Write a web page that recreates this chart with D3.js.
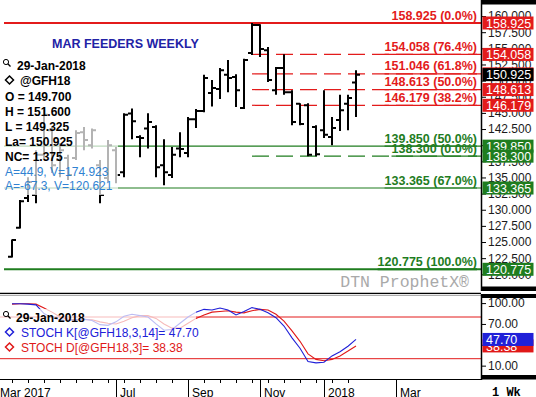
<!DOCTYPE html>
<html>
<head>
<meta charset="utf-8">
<script src="https://cdn.jsdelivr.net/npm/d3@7"></script>
<style>
  body { margin: 0; background: #fff; }
  svg { display: block; font-family: "Liberation Sans", Arial, sans-serif; }
</style>
</head>
<body>
<div id="chart"></div>
<script>
'use strict';

// weekly bars of the Mar feeder cattle contract (@GFH18)
const weeks = [
  "2017-04-03", "2017-04-10", "2017-04-17", "2017-04-24", "2017-05-01", "2017-05-08",
  "2017-05-15", "2017-05-22", "2017-05-29", "2017-06-05", "2017-06-12", "2017-06-19",
  "2017-06-26", "2017-07-03", "2017-07-10", "2017-07-17", "2017-07-24", "2017-07-31",
  "2017-08-07", "2017-08-14", "2017-08-21", "2017-08-28", "2017-09-04", "2017-09-11",
  "2017-09-18", "2017-09-25", "2017-10-02", "2017-10-09", "2017-10-16", "2017-10-23",
  "2017-10-30", "2017-11-06", "2017-11-13", "2017-11-20", "2017-11-27", "2017-12-04",
  "2017-12-11", "2017-12-18", "2017-12-25", "2018-01-01", "2018-01-08", "2018-01-15",
  "2018-01-22", "2018-01-29"
];
const opens = [122.7, 127.2, 131.8, 132.3, 138.5, 142.3, 137.7, 138.0, 138.0, 142.0, 140.0, 136.9,
  134.9, 139.2, 135.8, 144.9, 141.25, 142.6, 142.8, 136.9, 135.4, 139.5, 138.8, 144.0,
  145.3, 148.1, 148.7, 150.9, 150.55, 145.75, 154.27, 158.6, 154.7, 148.5, 151.95, 148.2,
  146.4, 146.2, 142.8, 142.3, 141.25, 143.9, 146.4, 149.7];
const highs = [125.4, 131.5, 135.05, 139.2, 145.75, 142.8, 140.3, 138.5, 142.3, 142.8, 142.6, 137.7,
  140.8, 139.7, 144.95, 145.7, 141.55, 144.95, 143.1, 140.9, 139.7, 142.0, 144.35, 145.6,
  150.9, 150.1, 151.95, 153.2, 151.0, 153.4, 158.925, 158.75, 155.2, 152.1, 154.1, 148.5,
  146.5, 146.5, 143.1, 148.5, 144.35, 147.8, 147.8, 151.6];
const lows = [122.6, 127.1, 131.2, 131.0, 138.0, 135.7, 135.05, 134.6, 137.7, 139.2, 139.5, 131.0,
  134.3, 134.1, 135.05, 140.9, 138.15, 139.5, 135.05, 133.8, 134.9, 138.15, 138.15, 142.65,
  145.1, 146.0, 147.15, 148.2, 145.9, 145.6, 153.96, 153.65, 149.8, 147.8, 147.8, 143.1,
  143.1, 138.3, 138.3, 141.1, 140.0, 142.2, 142.3, 144.35];
const closes = [125.3, 131.3, 134.3, 138.5, 144.7, 136.9, 139.2, 135.4, 141.9, 140.8, 142.3, 132.3,
  140.0, 135.4, 144.7, 143.7, 141.1, 143.6, 136.6, 135.8, 138.5, 139.4, 144.0, 145.3,
  150.4, 148.85, 151.6, 150.4, 148.5, 153.2, 158.6, 154.9, 150.1, 151.95, 148.2, 143.6,
  143.3, 138.5, 138.6, 141.6, 142.65, 145.4, 147.3, 150.925];

// stochastics
const stochK = [99, 99, 98.5, 97.5, 85, 79, 76, 75, 76, 77, 75, 69,
  68, 73, 81, 84, 82, 80, 70, 61, 62, 71, 80, 87,
  91, 90, 93, 90, 83, 88, 93.5, 91, 86, 79, 67, 50,
  35, 16, 14, 15, 24, 30, 38, 47.70];
const stochD = [98.5, 99, 99, 98.5, 93, 87, 80, 77, 76, 76, 76, 73,
  71, 70, 74, 79, 82, 82, 78, 70, 64, 64, 71, 78,
  83, 87, 88, 89, 87, 86, 89, 91, 90, 84, 74, 60,
  45, 27, 19, 17, 19, 24, 31, 38.38];

// retracement levels
const resistanceLevels = [158.925, 154.058, 151.046, 148.613, 146.179];
const resistancePct = ["0.0", "76.4", "61.8", "50.0", "38.2"];
const supportLevels = [139.850, 138.300, 133.365, 120.775];
const supportPct = ["50.0", "0.0", "67.0", "100.0"];
const moveLevels = [154.058, 151.046, 148.613, 146.179, 138.300];  // drawn from the swing high

// axis ticks
const priceTicks = [120, 122.5, 125, 127.5, 130, 132.5, 135, 137.5, 140, 142.5, 145, 147.5,
  150, 152.5, 155, 157.5, 160];
const stochTicks = [100, 70, 40, 10];
const stochBands = [80, 20];
const monthTicks = ["2017-03-06", "2017-04-03", "2017-05-01", "2017-06-05", "2017-07-03", "2017-08-07",
  "2017-09-04", "2017-10-02", "2017-11-06", "2017-12-04", "2018-01-01", "2018-02-05",
  "2018-03-05", "2018-04-02", "2018-05-07"];
const monthLabels = ["Mar 2017", "", "", "", "Jul", "", "Sep", "", "Nov", "", "2018", "", "Mar", "", ""];

// legend texts
const title = "MAR FEEDERS WEEKLY";
const lastDate = "29-Jan-2018";
const symbol = "@GFH18";
const quoteLines = ["O = 149.700", "H = 151.600", "L = 149.325", "La= 150.925", "NC= 1.375"];
const channelLines = ["A=44.9, V=174.923", "A=-67.3, V=120.621"];
const stochLines = ["STOCH K[@GFH18,3,14]= 47.70", "STOCH D[@GFH18,3]= 38.38"];

const RED = "#e31b1b";
const GREEN = "#1f7d1f";
const BLUE_K = "#2020d8";
const RED_D = "#e01818";
const AXIS_X = 481;

window.onload = function() {
  const svg = d3.select('#chart')
    .append('svg')
    .attr('width', 536)
    .attr('height', 397);

  const parseDate = d3.utcParse('%Y-%m-%d');
  const dates = weeks.map(parseDate);

  const xScale = d3.scaleUtc()
    .domain([dates[0], dates[dates.length - 1]])
    .range([12, 356]);
  const yPrice = d3.scaleLinear()
    .domain([120.775, 158.925])
    .range([269.3, 23]);
  const yStoch = d3.scaleLinear()
    .domain([20, 80])
    .range([358.7, 317]);

  drawPricePanel(svg, dates, xScale, yPrice);
  drawStochPanel(svg, dates, xScale, yStoch);
  drawTimeAxis(svg, parseDate, xScale);
};

function drawPricePanel(svg, dates, xScale, y) {
  const main = svg.append('g');
  const levels = resistanceLevels.map((v, i) => ({ v: v, pct: resistancePct[i], color: RED }))
    .concat(supportLevels.map((v, i) => ({ v: v, pct: supportPct[i], color: GREEN })));
  const highDate = dates[highs.indexOf(d3.max(highs))];
  const extremes = [d3.max(resistanceLevels), d3.min(supportLevels)];

  // level lines
  main.selectAll('.level')
    .data(levels)
    .enter()
    .append('line')
      .attr('x1', d => moveLevels.includes(d.v) ? xScale(highDate) : 4)
      .attr('x2', AXIS_X)
      .attr('y1', d => y(d.v))
      .attr('y2', d => y(d.v))
      .attr('stroke', d => d.color)
      .attr('stroke-width', d => extremes.includes(d.v) ? 2 : 1.2)
      .attr('stroke-dasharray', d => moveLevels.includes(d.v) ? '17,7' : null);

  // OHLC bars
  const bars = dates.map((d, i) => ({ date: d, o: opens[i], h: highs[i], l: lows[i], c: closes[i] }));
  main.selectAll('.bar')
    .data(bars)
    .enter()
    .append('path')
      .attr('d', d => {
        const x = Math.round(xScale(d.date));
        return 'M' + x + ',' + y(d.h) + 'V' + y(d.l) +
          'M' + (x - 4) + ',' + y(d.o) + 'H' + x +
          'M' + x + ',' + y(d.c) + 'H' + (x + 4);
      })
      .attr('fill', 'none')
      .attr('stroke', '#000')
      .attr('stroke-width', 2);

  // level labels, underlined
  const labels = main.selectAll('.lvl-label')
    .data(levels)
    .enter()
    .append('text')
      .attr('x', 477)
      .attr('y', d => y(d.v) - 3.5)
      .attr('text-anchor', 'end')
      .style('font-size', '12.5px')
      .style('font-weight', 'bold')
      .attr('fill', d => d.color)
      .text(d => d3.format('.3f')(d.v) + ' (' + d.pct + '%)');
  labels.each(function(d) {
    const w = this.getComputedTextLength();
    main.append('line')
      .attr('x1', 477 - w).attr('x2', 477)
      .attr('y1', y(d.v)).attr('y2', y(d.v))
      .attr('stroke', d.color)
      .attr('stroke-width', extremes.includes(d.v) ? 2 : 1.2);
  });

  // legend box fades what lies under it
  main.append('rect')
    .attr('x', 0).attr('y', 56)
    .attr('width', 118).attr('height', 139)
    .attr('fill', '#fff').attr('opacity', 0.7);

  main.append('text')
    .attr('x', 52).attr('y', 47.5)
    .style('font-size', '12.5px').style('font-weight', 'bold')
    .attr('fill', '#2222a6')
    .text(title);

  drawMagnifier(main, 6, 62);
  main.append('text')
    .attr('x', 17).attr('y', 69.5)
    .style('font-size', '12px').style('font-weight', 'bold')
    .text(lastDate);
  drawDiamond(main, 9.5, 80, '#000');
  main.append('text')
    .attr('x', 20).attr('y', 84.5)
    .style('font-size', '12px').style('font-weight', 'bold')
    .text(symbol);

  main.selectAll('.quote')
    .data(quoteLines)
    .enter()
    .append('text')
      .attr('x', 5)
      .attr('y', (d, i) => 100.5 + i * 15)
      .style('font-size', '12px').style('font-weight', 'bold')
      .text(d => d);
  main.selectAll('.chan')
    .data(channelLines)
    .enter()
    .append('text')
      .attr('x', 5)
      .attr('y', (d, i) => 175.5 + i * 14.5)
      .style('font-size', '12px')
      .attr('fill', '#2f82d2')
      .text(d => d);

  // watermark
  main.append('text')
    .attr('x', 469).attr('y', 287)
    .attr('text-anchor', 'end')
    .style('font-family', '"Liberation Mono", monospace')
    .style('font-size', '16.5px')
    .attr('fill', '#a9a9a9')
    .text('DTN ProphetX\u00AE');

  // right axis
  const axis = d3.axisRight(y)
    .tickValues(priceTicks)
    .tickFormat(d3.format('.3f'))
    .tickSize(5)
    .tickPadding(2);
  const ag = svg.append('g')
    .attr('transform', 'translate(' + AXIS_X + ',0)')
    .call(axis);
  ag.select('.domain').remove();
  ag.selectAll('text').style('font-size', '12px').attr('fill', '#1a1a1a')
    .style('font-family', '"Liberation Sans", Arial, sans-serif');
  ag.selectAll('line').attr('stroke', '#000');

  svg.append('line')
    .attr('x1', AXIS_X + 0.5).attr('x2', AXIS_X + 0.5)
    .attr('y1', 0).attr('y2', 291)
    .attr('stroke', '#000').attr('stroke-width', 1.5);
  svg.append('rect').attr('x', AXIS_X).attr('y', 0).attr('width', 55).attr('height', 4.5);
  svg.append('rect').attr('x', AXIS_X).attr('y', 286.5).attr('width', 55).attr('height', 4.5);

  // value badges
  const badgeData = levels.map(d => ({ v: d.v, color: d.color }));
  badgeData.push({ v: closes[closes.length - 1], color: '#000' });
  drawBadges(svg, badgeData, y, '.3f');
}

function drawStochPanel(svg, dates, xScale, y) {
  const g = svg.append('g');

  // panel separator
  g.append('line').attr('x1', 0).attr('x2', AXIS_X)
    .attr('y1', 293.3).attr('y2', 293.3)
    .attr('stroke', '#000').attr('stroke-width', 1.3);
  g.append('line').attr('x1', 0).attr('x2', AXIS_X)
    .attr('y1', 295.3).attr('y2', 295.3)
    .attr('stroke', '#999').attr('stroke-width', 1);

  g.selectAll('.band')
    .data(stochBands)
    .enter()
    .append('line')
      .attr('x1', 0).attr('x2', AXIS_X)
      .attr('y1', d => y(d)).attr('y2', d => y(d))
      .attr('stroke', RED).attr('stroke-width', 1);

  const line = d3.line()
    .x(d => xScale(d.date))
    .y(d => y(d.v));
  const dSeries = dates.map((d, i) => ({ date: d, v: stochD[i] }));
  const kSeries = dates.map((d, i) => ({ date: d, v: stochK[i] }));
  g.append('path').datum(dSeries)
    .attr('fill', 'none').attr('stroke', RED_D).attr('stroke-width', 1.1)
    .attr('d', line);
  g.append('path').datum(kSeries)
    .attr('fill', 'none').attr('stroke', BLUE_K).attr('stroke-width', 1.1)
    .attr('d', line);

  g.append('rect')
    .attr('x', 0).attr('y', 309)
    .attr('width', 196).attr('height', 46)
    .attr('fill', '#fff').attr('opacity', 0.7);

  drawMagnifier(g, 6, 314);
  g.append('text')
    .attr('x', 16).attr('y', 321.5)
    .style('font-size', '12px').style('font-weight', 'bold')
    .text(lastDate);
  const colors = [BLUE_K, RED_D];
  stochLines.forEach((t, i) => {
    drawDiamond(g, 9.5, 332 + i * 15, colors[i]);
    g.append('text')
      .attr('x', 21).attr('y', 336.5 + i * 15)
      .style('font-size', '12px')
      .attr('fill', colors[i])
      .text(t);
  });

  const axis = d3.axisRight(y)
    .tickValues(stochTicks)
    .tickFormat(d3.format('.2f'))
    .tickSize(5)
    .tickPadding(2);
  const ag = svg.append('g')
    .attr('transform', 'translate(' + AXIS_X + ',0)')
    .call(axis);
  ag.select('.domain').remove();
  ag.selectAll('text').style('font-size', '12px').attr('fill', '#1a1a1a')
    .style('font-family', '"Liberation Sans", Arial, sans-serif');
  ag.selectAll('line').attr('stroke', '#000');

  svg.append('line')
    .attr('x1', AXIS_X + 0.5).attr('x2', AXIS_X + 0.5)
    .attr('y1', 294).attr('y2', 380)
    .attr('stroke', '#000').attr('stroke-width', 1.5);
  svg.append('rect').attr('x', AXIS_X).attr('y', 294).attr('width', 55).attr('height', 4);
  svg.append('rect').attr('x', AXIS_X).attr('y', 375).attr('width', 55).attr('height', 4.5);

  drawBadges(svg, [
    { v: stochD[stochD.length - 1], color: RED_D },
    { v: stochK[stochK.length - 1], color: BLUE_K }
  ], y, '.2f');
}

function drawTimeAxis(svg, parseDate, xScale) {
  const g = svg.append('g');
  g.append('line')
    .attr('x1', 0).attr('x2', AXIS_X)
    .attr('y1', 379.5).attr('y2', 379.5)
    .attr('stroke', '#000').attr('stroke-width', 1);

  // small ticks every other week
  const weekDates = weeks.map(parseDate).filter((d, i) => i % 2 === 0);
  g.selectAll('.minor')
    .data(weekDates)
    .enter()
    .append('line')
      .attr('x1', d => Math.round(xScale(d)) + 0.5)
      .attr('x2', d => Math.round(xScale(d)) + 0.5)
      .attr('y1', 379.5).attr('y2', 383)
      .attr('stroke', '#000');

  const months = monthTicks.map((m, i) => ({ date: parseDate(m), label: monthLabels[i] }));
  const labelled = months.filter(d => d.label !== '');
  g.selectAll('.sep')
    .data(labelled.filter(d => xScale(d.date) > 0))
    .enter()
    .append('line')
      .attr('x1', d => Math.round(xScale(d.date)) + 0.5)
      .attr('x2', d => Math.round(xScale(d.date)) + 0.5)
      .attr('y1', 379.5).attr('y2', 397)
      .attr('stroke', '#000');
  g.selectAll('.mlabel')
    .data(labelled)
    .enter()
    .append('text')
      .attr('x', d => Math.max(0, xScale(d.date) + 4))
      .attr('y', 396.5)
      .style('font-size', '12px')
      .text(d => d.label);

  svg.append('text')
    .attr('x', 492).attr('y', 396)
    .style('font-family', '"Liberation Mono", monospace')
    .style('font-size', '12px').style('font-weight', 'bold')
    .text('1 Wk');
}

function drawBadges(svg, data, y, fmt) {
  const g = svg.append('g');
  const b = g.selectAll('.badge')
    .data(data)
    .enter()
    .append('g')
      .attr('transform', d => 'translate(0,' + y(d.v) + ')');
  b.append('rect')
    .attr('x', 482.5).attr('y', -6.5)
    .attr('width', 51).attr('height', 13)
    .attr('fill', d => d.color);
  b.append('text')
    .attr('x', 486).attr('y', 4.6)
    .style('font-size', '12.5px')
    .attr('fill', '#fff')
    .text(d => d3.format(fmt)(d.v));
}

function drawMagnifier(g, cx, cy) {
  g.append('circle')
    .attr('cx', cx).attr('cy', cy).attr('r', 2.6)
    .attr('fill', 'none').attr('stroke', '#000').attr('stroke-width', 1);
  g.append('line')
    .attr('x1', cx + 1.8).attr('y1', cy + 1.8)
    .attr('x2', cx + 4.5).attr('y2', cy + 4.5)
    .attr('stroke', '#000').attr('stroke-width', 1.3);
}

function drawDiamond(g, cx, cy, color) {
  g.append('path')
    .attr('d', 'M' + cx + ',' + (cy - 4) + 'L' + (cx + 4) + ',' + cy +
      'L' + cx + ',' + (cy + 4) + 'L' + (cx - 4) + ',' + cy + 'Z')
    .attr('fill', 'none').attr('stroke', color).attr('stroke-width', 1.5);
}
</script>
</body>
</html>
